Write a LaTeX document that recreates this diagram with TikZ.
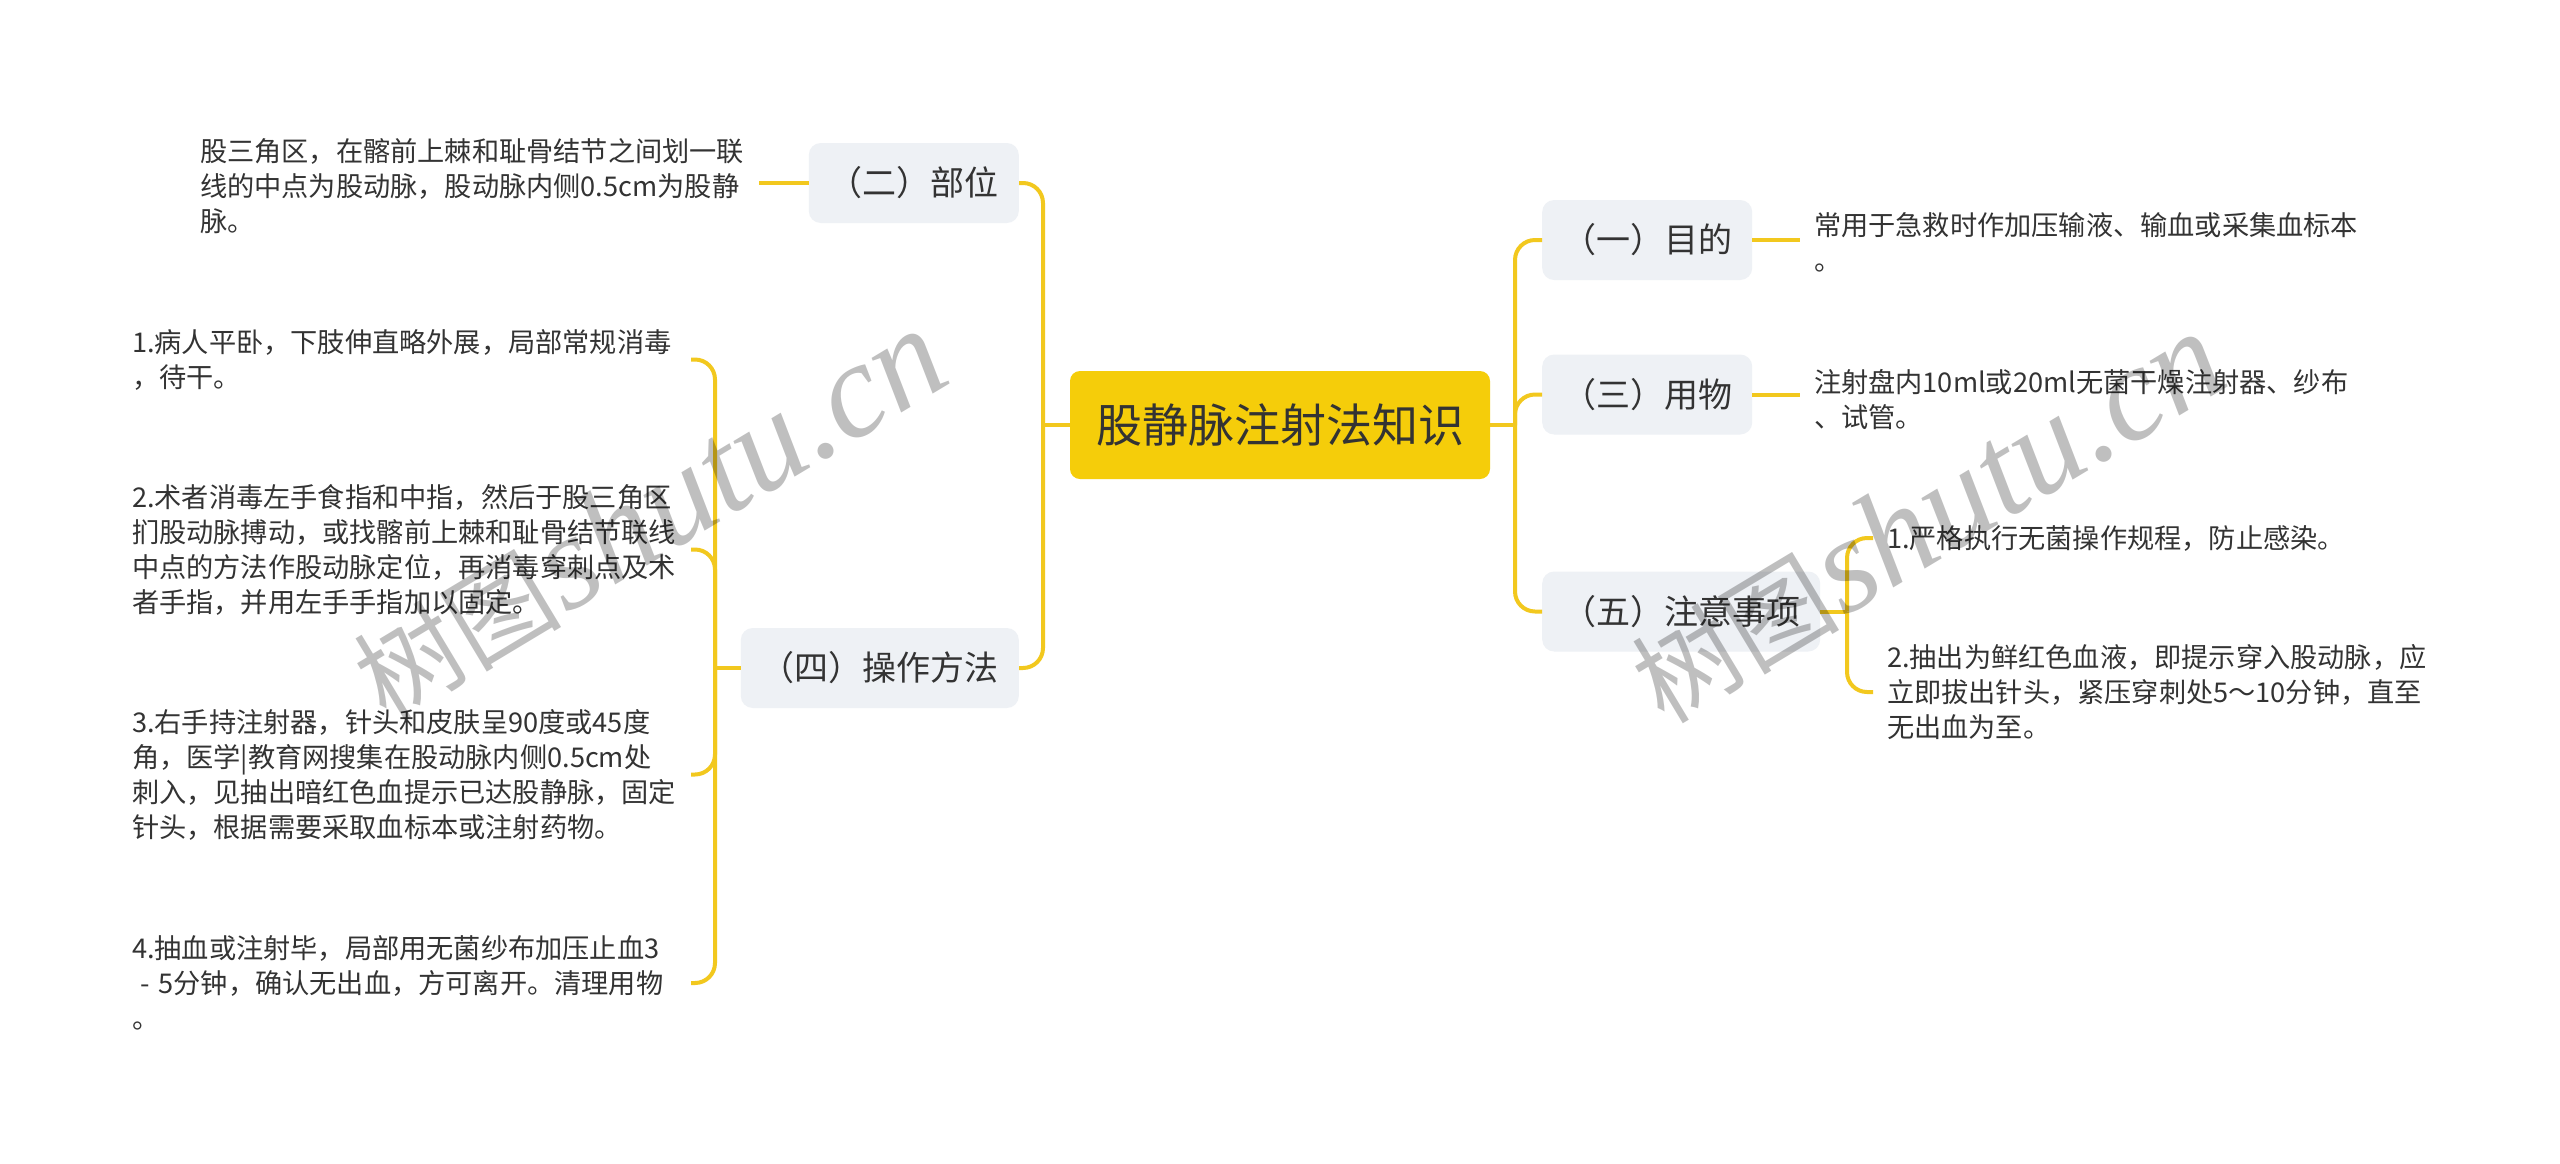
\documentclass[tikz,border=0pt]{standalone}
\usepackage{fontspec}
\setmainfont{Noto Sans CJK SC}
\newfontfamily\wmfont{Liberation Serif}
\definecolor{gold}{HTML}{F5CD0A}
\definecolor{goldline}{HTML}{F2C81E}
\definecolor{pale}{HTML}{EEF1F5}
\definecolor{ink}{HTML}{333333}
\setlength{\parindent}{0pt}

\begin{document}
\begin{tikzpicture}[link/.style={draw=goldline, line width=4pt, rounded corners=20pt}, elbow/.style={to path={|- (\tikztotarget)}}, hv/.style={to path={-| (\tikztotarget)}},
  root/.style={fill=gold, rounded corners=10pt, minimum width=420pt, minimum height=108pt, text=ink, font=\fontsize{46pt}{50pt}\selectfont},
  topic/.style={fill=pale, rounded corners=12pt, minimum height=80pt, inner xsep=20pt, text=ink, font=\fontsize{34pt}{40pt}\selectfont},
  leaf/.style={text width=545pt, align=left, inner sep=0pt, outer xsep=14pt, text=ink, font=\fontsize{27.2pt}{35pt}\selectfont},
  wmark/.style={rotate=31, text=black, text opacity=0.25}]
  \useasboundingbox[fill=white] (0pt, 0pt) rectangle (2560pt, -1163pt);
  \draw (1280.0pt, -425.0pt)node[root](r){股静脉注射法知识};
  \draw (1019.0pt, -183.0pt)node[topic, anchor=east](b2){（二）部位};
  \draw (1019.0pt, -668.0pt)node[topic, anchor=east](b4){（四）操作方法};
  \draw (1542.0pt, -240.0pt)node[topic, anchor=west](b1){（一）目的};
  \draw (1542.0pt, -394.5pt)node[topic, anchor=west](b3){（三）用物};
  \draw (1542.0pt, -611.5pt)node[topic, anchor=west](b5){（五）注意事项};
  \coordinate (lj) at (1043.0pt, -425.0pt);
  \coordinate (rj) at (1515.0pt, -425.0pt);
  \coordinate (lb) at (715.0pt, -668.0pt);
  \coordinate (fj) at (1847.0pt, -611.5pt);
  \draw (759.0pt, -186.0pt)node[leaf, anchor=east](t2){股三角区，在髂前上棘和耻骨结节之间划一联\\线的中点为股动脉，股动脉内侧0.5cm为股静\\脉。};
  \draw (691.0pt, -359.5pt)node[leaf, anchor=east](i1){1.病人平卧，下肢伸直略外展，局部常规消毒\\，待干。};
  \draw (691.0pt, -549.5pt)node[leaf, anchor=east](i2){2.术者消毒左手食指和中指，然后于股三角区\\扪股动脉搏动，或找髂前上棘和耻骨结节联线\\中点的方法作股动脉定位，再消毒穿刺点及术\\者手指，并用左手手指加以固定。};
  \draw (691.0pt, -774.5pt)node[leaf, anchor=east](i3){3.右手持注射器，针头和皮肤呈90度或45度\\角，医学|教育网搜集在股动脉内侧0.5cm处\\刺入，见抽出暗红色血提示已达股静脉，固定\\针头，根据需要采取血标本或注射药物。};
  \draw (691.0pt, -983.0pt)node[leaf, anchor=east](i4){4.抽血或注射毕，局部用无菌纱布加压止血3\\\hspace*{0.3em}- 5分钟，确认无出血，方可离开。清理用物\\。};
  \draw (1800.0pt, -242.0pt)node[leaf, anchor=west](t1){常用于急救时作加压输液、输血或采集血标本\\。};
  \draw (1800.0pt, -400.0pt)node[leaf, anchor=west](t3){注射盘内10ml或20ml无菌干燥注射器、纱布\\、试管。};
  \draw (1873.0pt, -538.0pt)node[leaf, anchor=west](n1){1.严格执行无菌操作规程，防止感染。};
  \draw (1873.0pt, -692.0pt)node[leaf, anchor=west](n2){2.抽出为鲜红色血液，即提示穿入股动脉，应\\立即拔出针头，紧压穿刺处5～10分钟，直至\\无出血为至。};
  % left side
  \path[link] (r.west) edge (lj);
  \path[link] (b2.east) edge[hv] (lj);
  \path[link] (lj) edge[elbow] (b4.east);
  \path[link] (b2.west) edge (b2.west -| t2.east);
  \path[link] (b4.west) edge (lb);
  \path[link] (lb) edge[elbow] (i1.east);
  \path[link] (lb) edge[elbow] (i2.east);
  \path[link] (lb) edge[elbow] (i3.east);
  \path[link] (lb) edge[elbow] (i4.east);
  % right side
  \path[link] (r.east) edge (rj);
  \path[link] (rj) edge[elbow] (b1.west);
  \path[link] (rj) edge[elbow] (b3.west);
  \path[link] (rj) edge[elbow] (b5.west);
  \path[link] (b1.east) edge (b1.east -| t1.west);
  \path[link] (b3.east) edge (b3.east -| t3.west);
  \path[link] (b5.east) edge (fj);
  \path[link] (fj) edge[elbow] (n1.west);
  \path[link] (fj) edge[elbow] (n2.west);
  % watermarks
  \draw (649.0pt, -515.0pt)node[wmark](w1){{\fontsize{104pt}{104pt}\selectfont 树图} {\wmfont\itshape\fontsize{135pt}{135pt}\selectfont shutu.cn}};
  \draw (1927.0pt, -518.0pt)node[wmark](w2){{\fontsize{104pt}{104pt}\selectfont 树图} {\wmfont\itshape\fontsize{135pt}{135pt}\selectfont shutu.cn}};
\end{tikzpicture}
\end{document}
